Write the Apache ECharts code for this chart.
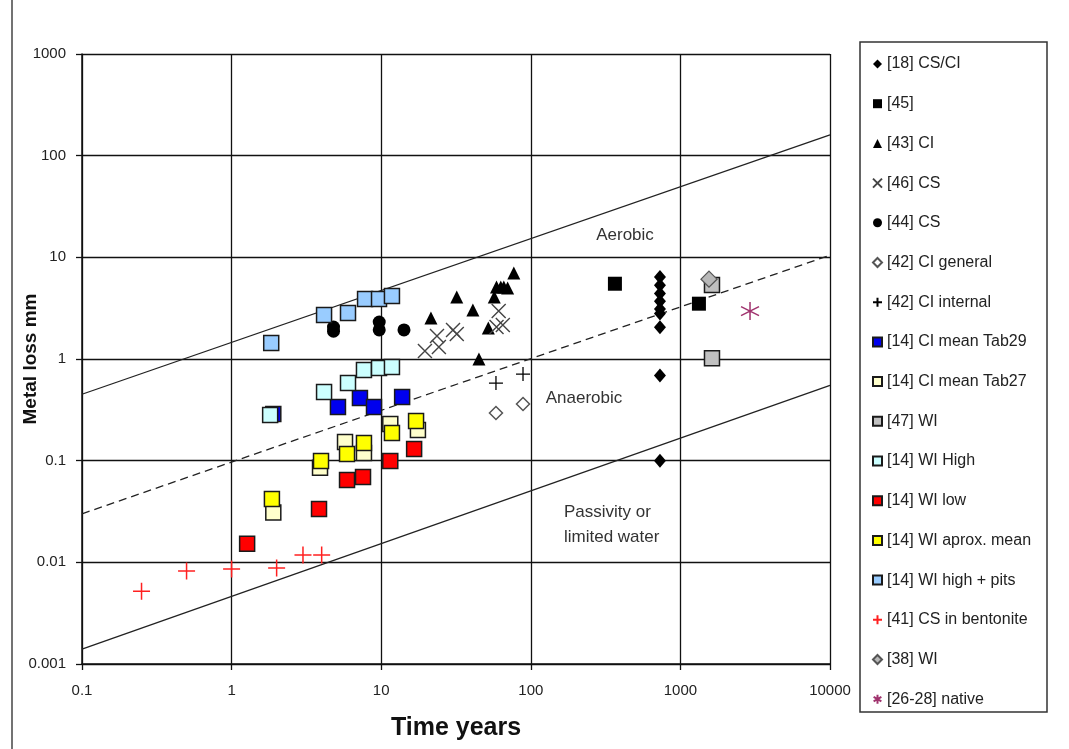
<!DOCTYPE html>
<html>
<head>
<meta charset="utf-8">
<script src="https://cdn.jsdelivr.net/npm/echarts@6/dist/echarts.min.js"></script>
<style>
html,body{margin:0;padding:0;background:#fff;}
#chart{width:1069px;height:749px;}
</style>
</head>
<body>
<div id="chart"></div>
<script>
// ---------- tick labels ----------
const xTickLabels = ['0.1', '1', '10', '100', '1000', '10000'];
const yTickLabels = ['0.001', '0.01', '0.1', '1', '10', '100', '1000'];

// ---------- boundary lines (time years, metal loss mm) ----------
const aerobicLine = [[0.1, 0.45], [10000, 160]];
const anaerobicLine = [[0.1, 0.03], [10000, 10.5]];
const passivityLine = [[0.1, 0.0014], [10000, 0.55]];

// ---------- data series [time years, metal loss mm] ----------
const ref18 = [[730, 6.4], [730, 5.3], [730, 4.4], [730, 3.7], [730, 3.1], [730, 2.8], [730, 2.05], [730, 0.69], [730, 0.1]];
const ref45 = [[365, 5.5], [1330, 3.5]];
const ref43 = [[21.5, 2.53], [32, 4.07], [41, 3.03], [52, 2.02], [45, 1.0], [57, 4.07], [59, 5.1], [63, 5.1], [66, 5.1], [70, 5.0], [77, 7.0]];
const ref46 = [[19.6, 1.2], [23.6, 1.68], [24.3, 1.31], [30.2, 1.93], [32, 1.76], [61, 2.96], [59, 2.06], [65, 2.16]];
const ref44 = [[4.8, 2.06], [4.8, 1.88], [9.7, 2.31], [9.7, 1.93], [14.2, 1.93]];
const ref42general = [[58.5, 0.294], [88.7, 0.361]];
const ref42internal = [[58.5, 0.58], [88.7, 0.71]];
const ref14tab29 = [[1.9, 0.288], [5.14, 0.337], [7.21, 0.414], [8.95, 0.337], [13.8, 0.423]];
const ref14tab27 = [[1.9, 0.031], [3.9, 0.085], [5.73, 0.153], [7.67, 0.119], [11.5, 0.23], [17.6, 0.2]];
const ref47 = [[1626, 5.34], [1626, 1.02]];
const ref14wiHigh = [[1.81, 0.281], [4.15, 0.474], [6.0, 0.58], [7.67, 0.78], [9.67, 0.815], [11.8, 0.834]];
const ref14wiLow = [[1.27, 0.0152], [3.84, 0.0335], [5.91, 0.0646], [7.56, 0.069], [11.5, 0.099], [16.6, 0.13]];
const ref14wiMean = [[1.86, 0.042], [3.96, 0.099], [5.91, 0.116], [7.67, 0.149], [11.8, 0.187], [17.1, 0.246]];
const ref14wiPits = [[1.84, 1.44], [4.15, 2.71], [6.0, 2.83], [7.8, 3.89], [9.67, 3.89], [11.8, 4.16]];
const ref41 = [[0.25, 0.0052], [0.5, 0.0082], [1, 0.0086], [2, 0.0088], [3, 0.0118], [4, 0.0118]];
const ref38 = [[1553, 6.1]];
const ref26 = [[2920, 2.96]];

const FONT = '"Liberation Sans", Arial, sans-serif';
const X_PATH = 'path://M0,0L10,10M10,0L0,10';
const PLUS_PATH = 'path://M5,0L5,10M0,5L10,5';
const STAR_PATH = 'path://M5,0L5,10M0.7,2.5L9.3,7.5M0.7,7.5L9.3,2.5';

function sq(name, data, fill) {
  return { name, type: 'scatter', data, symbol: 'rect', symbolSize: 15,
    itemStyle: { color: fill, borderColor: '#1a1a1a', borderWidth: 1.5, opacity: 1 } };
}
function lineSeries(data, dashed) {
  return { type: 'line', data, symbol: 'none', silent: true, z: 1,
    lineStyle: { color: '#222', width: 1.3, type: dashed ? [8, 5] : 'solid' } };
}

const scatterSeries = [
  { name: '[18] CS/CI', type: 'scatter', data: ref18, symbol: 'diamond', symbolSize: [12, 14], itemStyle: { color: '#000', opacity: 1 } },
  { name: '[45]', type: 'scatter', data: ref45, symbol: 'rect', symbolSize: 14, itemStyle: { color: '#000', opacity: 1 } },
  { name: '[43] CI', type: 'scatter', data: ref43, symbol: 'triangle', symbolSize: 13, itemStyle: { color: '#000', opacity: 1 } },
  { name: '[46] CS', type: 'scatter', data: ref46, symbol: X_PATH, symbolSize: 14, itemStyle: { color: 'transparent', borderColor: '#444', borderWidth: 1.4, opacity: 1 } },
  { name: '[44] CS', type: 'scatter', data: ref44, symbol: 'circle', symbolSize: 13, itemStyle: { color: '#000', opacity: 1 } },
  { name: '[42] CI general', type: 'scatter', data: ref42general, symbol: 'diamond', symbolSize: 13, itemStyle: { color: '#fff', borderColor: '#555', borderWidth: 1.5, opacity: 1 } },
  { name: '[42] CI internal', type: 'scatter', data: ref42internal, symbol: PLUS_PATH, symbolSize: 14, itemStyle: { color: 'transparent', borderColor: '#000', borderWidth: 1.3, opacity: 1 } },
  sq('[14] CI mean Tab29', ref14tab29, '#0000ee'),
  sq('[14] CI mean Tab27', ref14tab27, '#ffffcc'),
  sq('[47] WI', ref47, '#c0c0c0'),
  sq('[14] WI High', ref14wiHigh, '#ccffff'),
  sq('[14] WI low', ref14wiLow, '#ff0000'),
  sq('[14] WI aprox. mean', ref14wiMean, '#ffff00'),
  sq('[14] WI high + pits', ref14wiPits, '#99ccff'),
  { name: '[41] CS in bentonite', type: 'scatter', data: ref41, symbol: PLUS_PATH, symbolSize: 17, itemStyle: { color: 'transparent', borderColor: '#ff2020', borderWidth: 1.5, opacity: 1 } },
  { name: '[38] WI', type: 'scatter', data: ref38, symbol: 'diamond', symbolSize: 16, itemStyle: { color: '#b8b8b8', borderColor: '#555', borderWidth: 1.3, opacity: 1 } },
  { name: '[26-28] native', type: 'scatter', data: ref26, symbol: STAR_PATH, symbolSize: 18, itemStyle: { color: 'transparent', borderColor: '#a0336e', borderWidth: 1.5, opacity: 1 } }
];

const chart = echarts.init(document.getElementById('chart'), null, { renderer: 'canvas' });

const option = {
  animation: false,
  backgroundColor: '#fff',
  grid: { left: 82, top: 54, width: 748, height: 610, containLabel: false, outerBoundsMode: 'none' },
  xAxis: {
    type: 'log', logBase: 10, min: 0.1, max: 10000, splitNumber: 5,
    name: 'Time years', nameLocation: 'middle', nameGap: 52, nameMoveOverlap: false,
    nameTextStyle: { fontFamily: FONT, fontSize: 25, fontWeight: 'bold', color: '#111' },
    axisLine: { show: true, lineStyle: { color: '#111', width: 1.5 } },
    axisTick: { show: true, length: 6, lineStyle: { color: '#111', width: 1.3 } },
    minorTick: { show: false },
    axisLabel: { margin: 19, fontFamily: FONT, fontSize: 15, color: '#222',
      formatter: function (v) { return xTickLabels[Math.round(Math.log10(v)) + 1]; } },
    splitLine: { show: true, lineStyle: { color: '#111', width: 1.3 } }
  },
  yAxis: {
    type: 'log', logBase: 10, min: 0.001, max: 1000, splitNumber: 6,
    name: 'Metal loss mm', nameLocation: 'middle', nameGap: 42, nameRotate: 90, nameMoveOverlap: false,
    nameTextStyle: { fontFamily: FONT, fontSize: 19, fontWeight: 'bold', color: '#111' },
    axisLine: { show: true, lineStyle: { color: '#111', width: 1.5 } },
    axisTick: { show: true, length: 6, lineStyle: { color: '#111', width: 1.3 } },
    axisLabel: { margin: 16, fontFamily: FONT, fontSize: 15, color: '#222',
      formatter: function (v) { return yTickLabels[Math.round(Math.log10(v)) + 3]; } },
    splitLine: { show: true, lineStyle: { color: '#111', width: 1.3 } }
  },
  legend: {
    orient: 'vertical', left: 872, top: 56, padding: 0,
    data: scatterSeries.map(s => s.name),
    itemWidth: 9, itemHeight: 9, itemGap: 23.7, itemTextGap: 6,
    textStyle: { fontFamily: FONT, fontSize: 16, color: '#222', lineHeight: 16 },
    selectedMode: false
  },
  graphic: [
    { type: 'line', shape: { x1: 12, y1: 0, x2: 12, y2: 749 }, style: { stroke: '#444', lineWidth: 1.5 }, silent: true },
    { type: 'rect', shape: { x: 860, y: 42, width: 187, height: 670 }, style: { fill: 'none', stroke: '#333', lineWidth: 1.5 }, silent: true, z: 0 },
    { type: 'text', style: { text: 'Aerobic', x: 625, y: 235, textAlign: 'center', textVerticalAlign: 'middle', font: '17px ' + FONT, fill: '#333' }, silent: true },
    { type: 'text', style: { text: 'Anaerobic', x: 584, y: 398, textAlign: 'center', textVerticalAlign: 'middle', font: '17px ' + FONT, fill: '#333', backgroundColor: '#fff', padding: [3, 6] }, z: 5, silent: true },
    { type: 'text', style: { text: 'Passivity or\nlimited water', x: 564, y: 525, textAlign: 'left', textVerticalAlign: 'middle', font: '17px ' + FONT, lineHeight: 25, fill: '#333' }, silent: true }
  ],
  series: [
    lineSeries(aerobicLine, false),
    lineSeries(anaerobicLine, true),
    lineSeries(passivityLine, false)
  ].concat(scatterSeries)
};
chart.setOption(option);
</script>
</body>
</html>
